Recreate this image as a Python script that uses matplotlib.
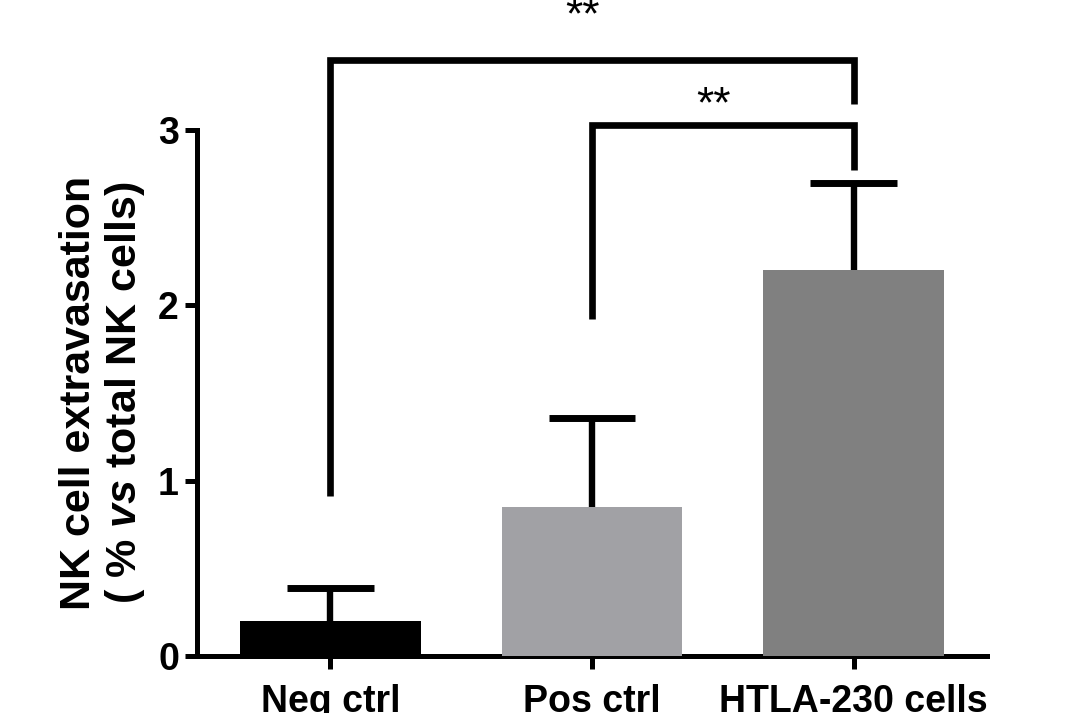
import matplotlib
matplotlib.use("Agg")
import matplotlib.pyplot as plt
import numpy as np

plt.rcParams["font.family"] = ["Liberation Sans", "DejaVu Sans"]
plt.rcParams["mathtext.fontset"] = "custom"
plt.rcParams["mathtext.rm"] = "Liberation Sans:bold"
plt.rcParams["mathtext.it"] = "Liberation Sans:italic:bold"

GROUPS = ["Neg ctrl", "Pos ctrl", "HTLA-230 cells"]
MEANS = [0.20, 0.85, 2.20]
SD = [0.19, 0.51, 0.50]
BAR_COLORS = ["#000000", "#a1a1a5", "#808080"]

# significance brackets: (left group, right group, left leg start, top, right leg end, label)
BRACKETS = [
    (0, 2, 0.91, 3.40, 3.15, "**"),
    (1, 2, 1.92, 3.03, 2.77, "**"),
]
STAR_Y = [3.58, 3.07]

ink = "#000000"
fig = plt.figure(figsize=(10.7, 7.13), dpi=100, facecolor="white")
ax = fig.add_axes([0.1841, 0.0799, 0.7383, 0.7378])

x = np.arange(len(GROUPS))
means = np.array(MEANS)
sd = np.array(SD)

# error bars (upper only), drawn under the bars
ax.vlines(x, means, means + sd, color=ink, linewidth=4.6, zorder=2)
ax.hlines(means + sd, x - 0.166, x + 0.166, color=ink, linewidth=5.0, zorder=2)
ax.bar(x, means, width=0.69, color=BAR_COLORS, edgecolor="none", zorder=3)

for (i, j, y_start, y_top, y_end, label), y_star in zip(BRACKETS, STAR_Y):
    ax.plot([x[i], x[i], x[j], x[j]], [y_start, y_top, y_top, y_end],
            color=ink, linewidth=4.8, solid_joinstyle="miter",
            solid_capstyle="butt", clip_on=False, zorder=4)
    # stars sit a touch left of the bracket centre in the original
    ax.text((x[i] + x[j]) / 2 - 0.035, y_star, label, ha="center", va="baseline",
            fontsize=32, color=ink, clip_on=False)

ax.set_xlim(-0.51, 2.51)
ax.set_ylim(0, 3)
ax.set_yticks([0, 1, 2, 3])
ax.set_yticklabels(["0", "1", "2", "3"])
ax.set_xticks(x)
ax.set_xticklabels(GROUPS)

for label in ax.get_xticklabels() + ax.get_yticklabels():
    label.set_fontweight("bold")
    label.set_fontsize(27)

ax.tick_params(axis="y", direction="out", length=9, width=3.6, pad=4, colors=ink)
ax.tick_params(axis="x", direction="out", length=9, width=3.6, pad=11, colors=ink)

for spine in ["top", "right"]:
    ax.spines[spine].set_visible(False)
for spine in ["left", "bottom"]:
    ax.spines[spine].set_linewidth(3.6)
    ax.spines[spine].set_color(ink)
    ax.spines[spine].set_capstyle("projecting")

fig.text(103 / 1070, 1 - 393 / 713,
         "NK cell extravasation\n( % $\\mathit{vs}$ total NK cells)",
         rotation=90, ha="center", va="center", fontsize=31,
         fontweight="bold", linespacing=1.15, color=ink)

fig.savefig("out.png", dpi=100, facecolor="white")
